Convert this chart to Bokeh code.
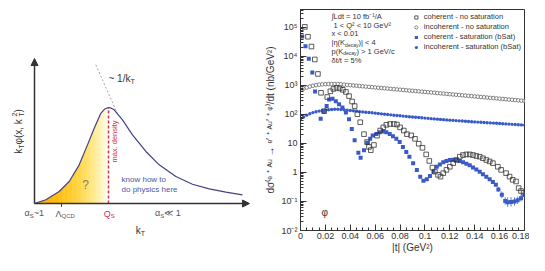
import json
import math
from bokeh.plotting import figure
from bokeh.layouts import row
from bokeh.models import (Range1d, Label, Arrow, NormalHead, FixedTicker,
                          CustomJSTickFormatter, Legend, LegendItem)
from bokeh.core.properties import value
from bokeh.embed import file_html
from bokeh.resources import INLINE

FONT = "Liberation Sans"

# ================= LEFT: schematic (arbitrary units, Q_s = 1) =================
kt_curve = [0.0, 0.153, 0.333, 0.469, 0.604, 0.716, 0.807, 0.896, 0.95, 1.0, 1.035,
            1.077, 1.189, 1.324, 1.505, 1.685, 1.910, 2.135, 2.361, 2.586, 2.811]
phi_curve = [0.0, 0.039, 0.125, 0.229, 0.403, 0.611, 0.785, 0.940, 0.985, 1.0, 0.993,
             0.976, 0.872, 0.715, 0.542, 0.403, 0.281, 0.201, 0.153, 0.118, 0.090]
qs = 1.0
lam_qcd = 0.365
inv_kt_x = [0.828, 1.12]
inv_kt_y = [1.445, 0.9375]

# ================= RIGHT: d sigma/dt (nb/GeV^2) vs |t| (GeV^2) =================
coh_nosat_t = [0.0035, 0.006, 0.0088, 0.0115, 0.014, 0.0165, 0.019, 0.0215, 0.024, 0.0265,
               0.029, 0.0315, 0.034, 0.0365, 0.039, 0.0415, 0.0435, 0.0457, 0.048, 0.051,
               0.0535, 0.055, 0.0565, 0.059, 0.0615, 0.064, 0.0665, 0.069, 0.072, 0.075,
               0.0775, 0.080, 0.083, 0.0855, 0.089, 0.092, 0.095, 0.098, 0.101, 0.1035,
               0.106, 0.108, 0.1105, 0.1125, 0.1147, 0.1173, 0.120, 0.1227, 0.1253, 0.128,
               0.1306, 0.1333, 0.136, 0.1386, 0.1413, 0.144, 0.1466, 0.1493, 0.152, 0.1546,
               0.1586, 0.1612, 0.1652, 0.168, 0.1705, 0.1732, 0.1753, 0.1772, 0.1793]
coh_nosat = [105000, 48000, 22000, 7900, 2500, 560, 130, 400, 630, 760,
             830, 790, 710, 600, 430, 280, 195, 102, 54, 21,
             11.2, 7.6, 5.9, 8.9, 18.6, 28, 36, 44, 47, 47,
             45, 36, 28, 21, 19, 14.5, 9.8, 7.1, 4.2, 2.5,
             1.48, 1.07, 0.83, 0.72, 0.95, 1.23, 1.58, 2.1, 2.7, 3.5,
             4.0, 4.2, 4.2, 4.0, 3.7, 3.5, 3.1, 2.7, 2.4, 2.1,
             1.58, 1.23, 0.95, 0.72, 0.56, 0.49, 0.29, 0.23, 0.20]

coh_sat_t = [0.0014, 0.004, 0.0067, 0.0095, 0.0117, 0.0162, 0.0188, 0.021, 0.023, 0.0257,
             0.0284, 0.031, 0.0337, 0.0365, 0.039, 0.0412, 0.0435, 0.0465, 0.0483, 0.051,
             0.0536, 0.056, 0.058, 0.061, 0.0637, 0.0663, 0.069, 0.0717, 0.0743, 0.077,
             0.0797, 0.0823, 0.085, 0.0875, 0.0905, 0.0935, 0.0962, 0.0988, 0.1015, 0.104,
             0.1068, 0.1095, 0.112, 0.1147, 0.1173, 0.12, 0.1227, 0.1253, 0.128, 0.1306,
             0.1333, 0.136, 0.1386, 0.1413, 0.144, 0.1466, 0.1493, 0.152, 0.1546, 0.157,
             0.159, 0.1618, 0.1645, 0.1665, 0.1692, 0.172, 0.1745, 0.1772, 0.18]
coh_sat = [49000, 22400, 8300, 2800, 620, 71, 126, 195, 330, 347,
           288, 224, 174, 117, 69, 31.6, 12.9, 4.8, 3.2, 5.9,
           10.7, 14.5, 19, 21.4, 24.5, 25.7, 24.5, 21.4, 17.8, 14.5,
           11.2, 7.6, 5.1, 3.5, 2.1, 1.23, 0.72, 0.52, 0.59, 0.76,
           1.07, 1.58, 1.9, 2.24, 2.5, 2.7, 2.75, 2.7, 2.5, 2.24,
           2.0, 1.78, 1.48, 1.26, 1.07, 0.87, 0.72, 0.59, 0.47, 0.38,
           0.26, 0.17, 0.105, 0.095, 0.097, 0.1, 0.11, 0.13, 0.166]
# relative (multiplicative) error on the last coherent-saturation points
coh_sat_err = [1.2, 1.3, 1.35, 1.45, 1.45, 1.4, 1.35, 1.3, 1.25]

inc_t = [round(0.0025 * i, 4) for i in range(73)]
inc_nosat = [700, 780, 850, 920, 980, 1030, 1070, 1095, 1110, 1120, 1125, 1125,
             1120, 1095, 1070, 1047, 1024, 1001, 979, 957, 936, 916, 895, 876, 856, 837,
             819, 801, 783, 766, 749, 733, 716, 701, 685, 670, 655, 641, 627, 613, 599,
             586, 573, 561, 548, 536, 524, 513, 501, 490, 480, 469, 459, 449, 439, 429,
             420, 410, 401, 392, 384, 375, 367, 359, 351, 343, 336, 328, 321, 314, 307,
             300, 294]
inc_sat = [70, 82, 95, 106, 116, 124, 131, 137, 142, 146, 149, 151,
           151, 148, 145, 141, 138, 135, 132, 126, 123, 120, 117, 115, 111, 108, 105,
           102, 100, 97, 94, 92, 90, 88, 86, 84, 82, 80, 78.5, 77, 75, 73.5, 72, 70.5,
           69, 67.6, 66.4, 65, 63.8, 62.7, 61.5, 60.4, 59.3, 58.3, 57.4, 56.5, 55.6,
           54.7, 53.8, 53, 52.1, 51.3, 50.5, 49.7, 48.9, 48.1, 47.3, 46.6, 45.8, 45.1,
           44.4, 43.7, 43]

x_ticks = [0.0, 0.02, 0.04, 0.06, 0.08, 0.10, 0.12, 0.14, 0.16, 0.18]
x_tick_labels = ["0", "0.02", "0.04", "0.06", "0.08", "0.1", "0.12", "0.14", "0.16", "0.18"]
y_exponents = [-2, -1, 0, 1, 2, 3, 4, 5]
y_tick_labels = ["10\u207b\u00b2", "10\u207b\u00b9", "1", "10", "10\u00b2", "10\u00b3", "10\u2074", "10\u2075"]
legend_labels = ["coherent - no saturation", "incoherent - no saturation",
                 "coherent - saturation (bSat)", "incoherent - saturation (bSat)"]
x_title = "|t| (GeV\u00b2)"
y_title = ("d\u03c3\u207d\u1d49 \u207a \u1d2c\u1d58 \u2192 \u1d49\u2032 \u207a "
           "\u1d2c\u1d58\u2032 \u207a \u1d60\u207e/dt (nb/GeV\u00b2)")

# ---------------- text width helper (Arial-like metrics) ----------------
W = {' ': 278, '~': 584, '(': 333, ')': 333, '|': 260, '/': 278, ',': 278, '.': 278,
     '<': 584, '>': 584, '=': 584, '+': 584, '-': 333, '%': 889, "'": 191, '\u2032': 191,
     'i': 222, 'l': 222, 'j': 222, 't': 278, 'f': 278, 'r': 333, 'I': 278, 'm': 833,
     'w': 722, 'M': 833, 'W': 944, 'A': 667, 'B': 667, 'C': 722, 'D': 722, 'E': 667,
     'F': 611, 'G': 778, 'H': 722, 'K': 667, 'L': 556, 'N': 722, 'O': 778, 'P': 667,
     'Q': 778, 'R': 722, 'S': 667, 'T': 611, 'U': 722, 'V': 667, 'X': 667, 'Y': 667,
     'c': 500, 'k': 500, 's': 500, 'v': 500, 'x': 500, 'y': 500, 'z': 500,
     '\u2192': 1000, '\u226a': 1000, '\u222b': 400, '\u03b1': 580, '\u039b': 667,
     '\u03c6': 650, '\u03b7': 556, '\u03b4': 556, '\u03c3': 600, '?': 556,
     '\u00b2': 333, '\u207b': 333, '\u00b9': 333}


def tw(s, size):
    return sum(W.get(c, 556) for c in s) * size / 1000.0


def layout_segs(segs, align):
    pos = 0.0
    placed = []
    for seg in segs:
        t, size, shift = seg[0], seg[1], seg[2]
        adv = seg[3] if len(seg) > 3 else True
        style = seg[4] if len(seg) > 4 else "normal"
        placed.append((t, size, shift, pos, style))
        if adv:
            pos += tw(t, size)
    start = {"left": 0.0, "center": -pos / 2.0, "right": -pos}[align]
    return [(t, size, shift, start + a, style) for (t, size, shift, a, style) in placed]


# ======================= LEFT FIGURE =======================
XL0, XL1 = -0.4595, 3.081
YL0, YL1 = -0.635, 2.021
PXX = 262 / (XL1 - XL0)   # px per x unit
PXY = 255 / (YL1 - YL0)   # px per y unit

pl = figure(frame_width=262, frame_height=255, title=None,
            x_range=Range1d(XL0, XL1), y_range=Range1d(YL0, YL1),
            output_backend="svg", toolbar_location=None,
            x_axis_location=None, y_axis_location=None,
            min_border_left=0, min_border_right=0, min_border_top=0, min_border_bottom=0)
pl.xgrid.visible = False
pl.ygrid.visible = False
pl.outline_line_color = None
pl.background_fill_color = "white"


def rich_text(x, y, segs, color, align="left", angle=0.0):
    for t, size, shift, a, style in layout_segs(segs, align):
        if angle == 0.0:
            dx, dy = a, shift
        else:
            dx, dy = -shift, a
        pl.text(x=[x + dx / PXX], y=[y + dy / PXY], text=[t], angle=angle,
                text_font=value(FONT), text_font_size=f"{size}px", text_color=color,
                text_align="left", text_baseline="middle", text_font_style=style)


# gradient fill below the curve, up to Q_s
peak = max(phi_curve)
nstrip = 90
step = qs / nstrip
lefts = [i * step for i in range(nstrip)]
rights = [min(qs, l + step * 1.6) for l in lefts]
cols = []
for l in lefts:
    f = (l + step / 2) / qs
    g = int(round(170 + 85 * f ** 1.3))
    b = int(round(245 * f ** 2.4))
    cols.append("#%02x%02x%02x" % (255, min(g, 255), min(b, 255)))
pl.quad(left=lefts, right=rights, bottom=0, top=peak, fill_color=cols, line_color=None)
mask_x = [k for k in kt_curve if k <= qs]
mask_y = phi_curve[:len(mask_x)]
pl.patch(mask_x + [qs, 0.0], mask_y + [peak * 1.1, peak * 1.1], fill_color="white", line_color=None)

# dashed guides
pl.line(inv_kt_x, inv_kt_y, line_color="#9a9a9a", line_width=0.9, line_dash="2 2")
pl.line([qs, qs], [0, peak], line_color="#cc3355", line_width=1.5, line_dash="3 2")
# curve
pl.line(kt_curve, phi_curve, line_color="#41418a", line_width=1.2)

# axes with arrows
pl.add_layout(Arrow(end=NormalHead(size=7, fill_color="#333333", line_color="#333333", line_width=1),
                    x_start=0, y_start=0, x_end=0, y_end=1.51, line_color="#333333", line_width=1.5))
pl.add_layout(Arrow(end=NormalHead(size=7, fill_color="#333333", line_color="#333333", line_width=1),
                    x_start=0, y_start=0, x_end=2.905, y_end=0, line_color="#333333", line_width=1.5))
pl.segment(x0=[lam_qcd], y0=[0], x1=[lam_qcd], y1=[-0.035], line_color="#333333", line_width=1)

GREY = "#555555"
rich_text(0.0135, -0.101, [("\u03b1", 9, 0), ("S", 6, -2.5), (" ~1", 9, 0)], GREY, "center")
rich_text(lam_qcd + 0.05, -0.104, [("\u039b", 9, 0), ("QCD", 6, -2.5)], GREY, "center")
rich_text(qs + 0.01, -0.104, [("Q", 9, 0), ("S", 6, -2.5)], "#cc3355", "center")
rich_text(1.82, -0.101, [("\u03b1", 9, 0), ("S", 6, -2.5), (" \u226a 1", 9, 0)], GREY, "center")
rich_text(1.43, -0.28, [("k", 10, 0), ("T", 7, -3)], "#333333", "center")
rich_text(1.0, 1.30, [("~ 1/k", 10, 0), ("T", 7, -3)], "#333333", "left")
rich_text(0.69, 0.198, [("?", 12, 0)], "#8c7c5c", "center")
rich_text(1.176, 0.25, [("know how to", 8, 0)], "#4b58a6", "left")
rich_text(1.176, 0.146, [("do physics here", 8, 0)], "#4b58a6", "left")
rich_text(1.085, 0.646, [("max. density", 7.5, 0)], "#cc3355", "center", angle=math.pi / 2)
rich_text(-0.216, 0.75, [("k", 10, 0), ("T", 7, -3), (" \u03c6(x, k", 10, 0),
                         ("T", 7, -3, False), ("2", 7, 4), (")", 10, 0)],
          "#333333", "center", angle=math.pi / 2)

# ======================= RIGHT FIGURE =======================
BLUE = "#3a5bc7"
DARK = "#333333"
p = figure(width=267, height=255, title=None, x_range=Range1d(0, 0.18),
           y_range=Range1d(1e-2, 10 ** 5.62), y_axis_type="log",
           output_backend="svg", toolbar_location=None,
           min_border_left=36, min_border_right=5, min_border_top=9, min_border_bottom=23)
p.xgrid.visible = False
p.ygrid.visible = False
p.outline_line_color = DARK
p.outline_line_width = 1

p.xaxis.ticker = FixedTicker(ticks=x_ticks,
                             minor_ticks=[round(0.005 * i, 3) for i in range(37)])
p.xaxis.formatter = CustomJSTickFormatter(
    code="const L = %s; return L[Math.round(tick / 0.02)];" % json.dumps(x_tick_labels))
p.yaxis.ticker = FixedTicker(ticks=[10.0 ** e for e in y_exponents],
                             minor_ticks=[m * 10.0 ** e for e in y_exponents for m in range(2, 10)])
p.yaxis.formatter = CustomJSTickFormatter(
    code="const L = %s; return L[Math.round(Math.log10(tick)) + 2];" % json.dumps(y_tick_labels))
for ax in (p.xaxis, p.yaxis):
    ax.major_tick_in = 6
    ax.major_tick_out = 0
    ax.minor_tick_in = 3
    ax.minor_tick_out = 0
    ax.axis_line_color = DARK
    ax.major_tick_line_color = DARK
    ax.minor_tick_line_color = DARK
    ax.major_label_text_font = FONT
    ax.major_label_text_font_size = "9px"
    ax.major_label_text_color = DARK
    ax.axis_label_text_font = FONT
    ax.axis_label_text_font_style = "normal"
    ax.axis_label_text_color = DARK
p.xaxis.major_label_standoff = 2
p.yaxis.major_label_standoff = 3
p.xaxis.axis_label = x_title
p.xaxis.axis_label_text_font_size = "10px"
p.xaxis.axis_label_standoff = 0
p.yaxis.axis_label = y_title
p.yaxis.axis_label_text_font_size = "10px"
p.yaxis.axis_label_standoff = 2

r_in = p.scatter(inc_t, inc_nosat, marker="circle", size=3.6, fill_color="white",
                 line_color="#555555", line_width=0.7)
r_is = p.scatter(inc_t, inc_sat, marker="circle", size=3.4, fill_color=BLUE, line_color=None)
n_err = len(coh_sat_err)
et = coh_sat_t[-n_err:]
ev = coh_sat[-n_err:]
p.segment(x0=et, y0=[v / e for v, e in zip(ev, coh_sat_err)], x1=et,
          y1=[v * e for v, e in zip(ev, coh_sat_err)], line_color=BLUE, line_width=0.8)
r_cs = p.scatter(coh_sat_t, coh_sat, marker="square", size=4, fill_color=BLUE, line_color=None)
r_cn = p.scatter(coh_nosat_t, coh_nosat, marker="square", size=4.6, fill_color=None,
                 line_color=DARK, line_width=0.8)

legend = Legend(items=[LegendItem(label=legend_labels[0], renderers=[r_cn]),
                       LegendItem(label=legend_labels[1], renderers=[r_in]),
                       LegendItem(label=legend_labels[2], renderers=[r_cs]),
                       LegendItem(label=legend_labels[3], renderers=[r_is])],
                location="top_right", label_text_font=FONT, label_text_font_size="7.5px",
                label_text_color=DARK, label_height=8, glyph_height=8, glyph_width=8,
                label_standoff=4, spacing=1, padding=2, margin=3,
                border_line_color=None, background_fill_alpha=0)
p.add_layout(legend)


def rich_label(x, y, segs, color, align="left", angle=0.0):
    for t, size, shift, a, style in layout_segs(segs, align):
        if angle == 0.0:
            dx, dy = a, shift
        else:
            dx, dy = -shift, a
        p.add_layout(Label(x=x + dx, y=y + dy, x_units="screen", y_units="screen", text=t,
                           angle=angle, text_font=FONT, text_font_size=f"{size}px",
                           text_color=color, text_align="left", text_baseline="middle",
                           text_font_style=style))


# info block (screen units relative to frame)
TX, TY, DY = 31, 214, 8.7
rich_label(TX, TY, [("\u222bLdt = 10 fb\u207b\u00b9/A", 7.5, 0)], DARK)
rich_label(TX + 2, TY - DY, [("1 < Q\u00b2 < 10 GeV\u00b2", 7.5, 0)], DARK)
rich_label(TX, TY - 2 * DY, [("x < 0.01", 7.5, 0)], DARK)
rich_label(TX, TY - 3 * DY, [("|\u03b7(K", 7.5, 0), ("decay", 5, -2), (")| < 4", 7.5, 0)], DARK)
rich_label(TX, TY - 4 * DY, [("p(K", 7.5, 0), ("decay", 5, -2), (") > 1 GeV/c", 7.5, 0)], DARK)
rich_label(TX, TY - 5 * DY, [("\u03b4t/t = 5%", 7.5, 0)], DARK)

p.add_layout(Label(x=0.0195, y=0.042, x_units="data", y_units="data", text="\u03c6",
                   text_font=FONT, text_font_size="10px", text_color=DARK,
                   text_align="center", text_baseline="middle"))

layout = row(pl, p)
open("out.html", "w").write(file_html(layout, INLINE))
